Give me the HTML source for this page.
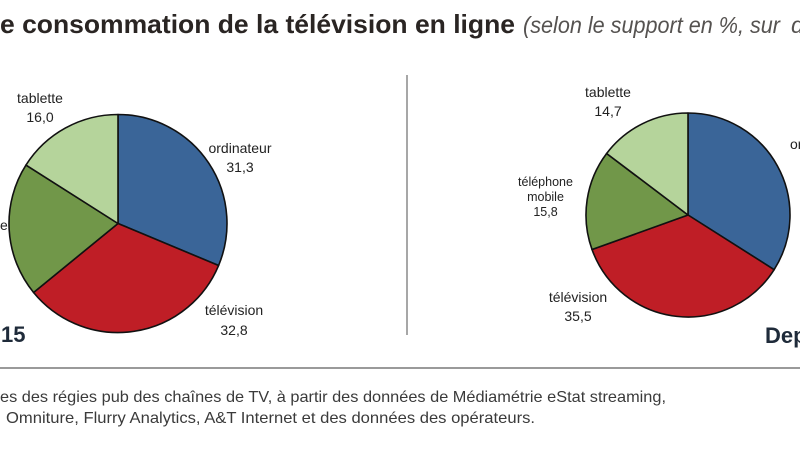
<!DOCTYPE html>
<html>
<head>
<meta charset="utf-8">
<style>
html,body{margin:0;padding:0;background:#fff;width:800px;height:450px;overflow:hidden;}
svg{display:block;}
text{font-family:"Liberation Sans", sans-serif;}
</style>
</head>
<body>
<svg width="800" height="450" viewBox="0 0 800 450" xmlns="http://www.w3.org/2000/svg">
  <rect width="800" height="450" fill="#ffffff"/>
  <!-- Title -->
  <text x="0" y="33" font-size="26" font-weight="bold" fill="#2a2523" textLength="515" lengthAdjust="spacingAndGlyphs">e consommation de la télévision en ligne</text>
  <text x="523" y="33" font-size="23" font-style="italic" fill="#555250" textLength="257" lengthAdjust="spacingAndGlyphs">(selon le support en %, sur</text>
  <text x="791" y="33" font-size="23" font-style="italic" fill="#555250">d</text>

  <!-- Left pie -->
  <g stroke="#111" stroke-width="1.6" stroke-linejoin="round">
    <path d="M118,223.5 L118,114.5 A109,109 0 0,1 218.57,265.52 Z" fill="#3a6598"/>
    <path d="M118,223.5 L218.57,265.52 A109,109 0 0,1 33.58,292.45 Z" fill="#bf1e26"/>
    <path d="M118,223.5 L33.58,292.45 A109,109 0 0,1 25.97,165.10 Z" fill="#719749"/>
    <path d="M118,223.5 L25.97,165.10 A109,109 0 0,1 118,114.5 Z" fill="#b5d49b"/>
  </g>
  <g font-size="14" fill="#222" text-anchor="middle">
    <text x="40" y="103">tablette</text>
    <text x="40" y="122">16,0</text>
    <text x="240" y="153">ordinateur</text>
    <text x="240" y="172">31,3</text>
    <text x="234" y="315">télévision</text>
    <text x="234" y="335">32,8</text>
  </g>
  <text x="0" y="230" font-size="14" fill="#222">e</text>
  <text x="1" y="342" font-size="22" font-weight="bold" fill="#1f2b3a">15</text>

  <!-- Separator -->
  <line x1="407" y1="75" x2="407" y2="335" stroke="#8a8a8a" stroke-width="1.5"/>

  <!-- Right pie -->
  <g stroke="#111" stroke-width="1.6" stroke-linejoin="round">
    <path d="M688,215 L688,113 A102,102 0 0,1 774.12,269.65 Z" fill="#3a6598"/>
    <path d="M688,215 L774.12,269.65 A102,102 0 0,1 592.03,249.55 Z" fill="#bf1e26"/>
    <path d="M688,215 L592.03,249.55 A102,102 0 0,1 606.63,153.48 Z" fill="#719749"/>
    <path d="M688,215 L606.63,153.48 A102,102 0 0,1 688,113 Z" fill="#b5d49b"/>
  </g>
  <g fill="#222" text-anchor="middle">
    <text x="608" y="97" font-size="14">tablette</text>
    <text x="608" y="116" font-size="14">14,7</text>
    <text x="545.5" y="186" font-size="12.5">téléphone</text>
    <text x="545.5" y="201" font-size="12.5">mobile</text>
    <text x="545.5" y="216" font-size="12.5">15,8</text>
    <text x="578" y="302" font-size="14">télévision</text>
    <text x="578" y="321" font-size="14">35,5</text>
  </g>
  <text x="790" y="149" font-size="14" fill="#222">or</text>
  <text x="765" y="343" font-size="22" font-weight="bold" fill="#1f2b3a">Dep</text>

  <!-- Bottom rule -->
  <line x1="0" y1="368" x2="800" y2="368" stroke="#9a9a9a" stroke-width="2"/>

  <!-- Footer -->
  <text x="0" y="402" font-size="16" fill="#3a3a3a" textLength="666" lengthAdjust="spacingAndGlyphs">es des régies pub des chaînes de TV, à partir des données de Médiamétrie eStat streaming,</text>
  <text x="6" y="423" font-size="16" fill="#3a3a3a" textLength="529" lengthAdjust="spacingAndGlyphs">Omniture, Flurry Analytics, A&amp;T Internet et des données des opérateurs.</text>
</svg>
</body>
</html>
